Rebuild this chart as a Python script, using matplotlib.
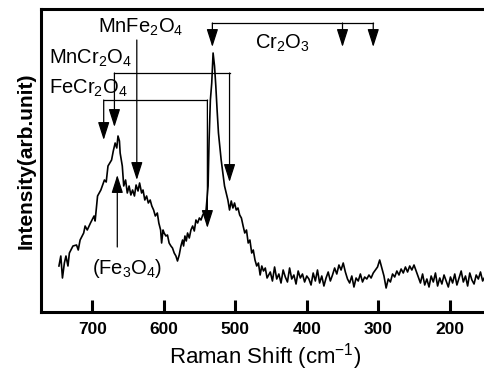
import matplotlib
matplotlib.use('Agg')
import matplotlib.pyplot as plt

plt.rcParams['font.family'] = ['Liberation Sans', 'DejaVu Sans']
plt.rcParams['mathtext.fontset'] = 'custom'
plt.rcParams['mathtext.rm'] = 'Liberation Sans'
plt.rcParams['mathtext.it'] = 'Liberation Sans:italic'
plt.rcParams['mathtext.bf'] = 'Liberation Sans:bold'

# ---- spectrum: peak region ----
shift_main = [746.6, 744, 741.7, 739, 736.8, 734, 732, 727, 722, 719.6, 717, 712, 710, 707,
              702.5, 697.5, 696, 692.6, 688, 683, 680.5, 678, 673, 670.6, 668, 665.7, 664,
              662, 661, 658, 656, 653.4, 651, 648.5, 646, 643.6, 641, 638.7, 636, 633.8,
              631, 629, 626.5, 624, 621.6, 619, 616.7, 614.2, 611.8, 609, 606.9, 604.4,
              603, 601, 599.5, 597, 594.8, 592.5, 590, 587.8, 585.4, 583, 580.8, 578.4,
              576, 573.7, 572.3, 570.4, 568.5, 566.7, 564.3, 562, 559.6, 557.3, 555,
              552.6, 550.2, 547.9, 545.5, 543.2, 540.8, 538, 536.6, 534.8, 532.9, 531,
              529, 527.2, 525.4, 523.5, 521.6, 519.7, 517.4, 515, 512.7, 510.3, 508,
              505.6, 503.3, 501, 498.6, 496.2, 493.8, 491.4, 489, 486.7, 484.3, 481.9,
              479.5, 477, 474.8, 472.4, 470, 467.6, 465.2, 462.9, 460.5, 458, 455.5, 453.3]
int_main = [46, 56, 34, 49, 56, 46, 59, 66, 67, 62, 72, 79, 86, 82,
            89, 96, 91, 116, 122, 132, 130, 146, 152, 161, 169, 164, 176,
            171, 159, 146, 126, 132, 119, 126, 117, 122, 116, 127, 121, 129,
            119, 122, 112, 116, 109, 112, 106, 102, 96, 99, 89, 82,
            69, 82, 79, 76, 77, 69, 66, 64, 59, 56, 51, 57,
            66, 72, 66, 76, 71, 79, 74, 82, 86, 81, 92,
            89, 94, 92, 97, 99, 102, 126, 172, 212, 229, 259,
            246, 226, 202, 179, 166, 152, 139, 126, 119, 112, 102,
            111, 104, 109, 102, 104, 97, 94, 86, 79, 82, 69,
            72, 59, 62, 52, 46, 49, 37, 46, 41, 44, 34, 37]

# ---- spectrum: baseline region ----
shift_base = [451, 448, 445, 442, 439, 436, 433, 430, 427, 424, 421, 418, 415, 412, 409, 406, 403, 400,
              397, 394, 391, 388, 385, 382, 379, 376, 373, 370, 367, 364, 361, 358, 355, 352, 349,
              346, 343, 340, 337, 334, 331, 328, 325, 322, 319, 316, 313, 310, 307, 304, 301, 298,
              295, 292, 289, 286, 283, 280, 277, 274, 271, 268, 265, 262, 259, 256, 253, 250, 247,
              244, 241, 238, 235, 232, 229, 226, 223, 220, 217, 214, 211, 208, 205, 202, 199, 196,
              193, 190, 187, 184, 181, 178, 175, 172, 169, 166, 163, 160, 157, 154, 151]
int_base = [40, 31, 45, 33, 38, 29, 42, 35, 30, 44, 33, 37, 28, 41, 34, 38, 30, 36,
            33, 27, 39, 31, 42, 29, 36, 26, 34, 40, 31, 37, 44, 38, 47, 42, 49,
            40, 33, 29, 36, 25, 34, 31, 38, 30, 35, 33, 37, 34, 39, 42, 45, 52,
            44, 36, 24, 33, 30, 38, 35, 41, 37, 43, 39, 45, 40, 46, 42, 47, 41,
            35, 29, 38, 27, 33, 25, 36, 30, 39, 26, 34, 28, 37, 31, 25, 35, 29,
            38, 27, 34, 41, 30, 36, 26, 39, 32, 28, 37, 33, 40, 31, 35]

# ---- peak assignments ----
cr2o3_peaks = [532, 350, 307]
cr2o3_level = 289
cr2o3_tip = 265

mnfe_peak = 637.7
mnfe_top = 272
mnfe_tip = 132

mncr_peaks = [669, 508]
mncr_level = 239
mncr_tips = [185, 130]

fecr_peaks = [684, 539]
fecr_level = 212
fecr_tips = [172, 84]

fe3o4_peak = 665
fe3o4_bottom = 65
fe3o4_tip = 137

xticks = [700, 600, 500, 400, 300, 200]

fig = plt.figure(figsize=(4.85, 3.74), dpi=100)
ax = fig.add_axes([41 / 485, 1 - 312 / 374, (490 - 41) / 485, (312 - 9) / 374])

ax.plot(shift_main + shift_base, int_main + int_base, color='black', lw=1.2)

ax.set_xlim(771.7, 143.7)
ax.set_ylim(0, 303)
ax.set_xticks(xticks)
ax.set_xticklabels([str(t) for t in xticks], fontweight='bold')
ax.set_yticks([])
ax.tick_params(axis='x', direction='in', length=9, width=2.2, pad=7, labelsize=12.5)
for s in ax.spines.values():
    s.set_linewidth(2.2)

ax.set_xlabel('Raman Shift (cm$^{-1}$)', fontsize=16, labelpad=3)
ax.set_ylabel('Intensity(arb.unit)', fontsize=15, fontweight='bold', labelpad=4)

lw = 0.9
arrow_kw = dict(arrowstyle='-|>,head_length=1.0,head_width=0.32', color='black',
                lw=lw, shrinkA=0, shrinkB=0, mutation_scale=11)


def down_arrow(x, top, tip):
    ax.annotate('', xy=(x, tip), xytext=(x, top), arrowprops=arrow_kw)


fs = 14.5

# Cr2O3
ax.plot([cr2o3_peaks[0], cr2o3_peaks[-1]], [cr2o3_level, cr2o3_level], color='black', lw=lw)
for p in cr2o3_peaks:
    down_arrow(p, cr2o3_level, cr2o3_tip)
ax.text(434.6, 269, 'Cr$_2$O$_3$', fontsize=fs, ha='center', va='center')

# MnFe2O4
down_arrow(mnfe_peak, mnfe_top, mnfe_tip)
ax.text(631.8, 285, 'MnFe$_2$O$_4$', fontsize=fs, ha='center', va='center')

# MnCr2O4
ax.plot(mncr_peaks, [mncr_level, mncr_level], color='black', lw=lw)
for p, t in zip(mncr_peaks, mncr_tips):
    down_arrow(p, mncr_level, t)
ax.text(760.5, 254, 'MnCr$_2$O$_4$', fontsize=fs, ha='left', va='center')

# FeCr2O4
ax.plot(fecr_peaks, [fecr_level, fecr_level], color='black', lw=lw)
for p, t in zip(fecr_peaks, fecr_tips):
    down_arrow(p, fecr_level, t)
ax.text(760.5, 224, 'FeCr$_2$O$_4$', fontsize=fs, ha='left', va='center')

# Fe3O4
ax.annotate('', xy=(fe3o4_peak, fe3o4_tip), xytext=(fe3o4_peak, fe3o4_bottom), arrowprops=arrow_kw)
ax.text(651.4, 44, '(Fe$_3$O$_4$)', fontsize=fs, ha='center', va='center')

fig.savefig('out.png', dpi=100)
